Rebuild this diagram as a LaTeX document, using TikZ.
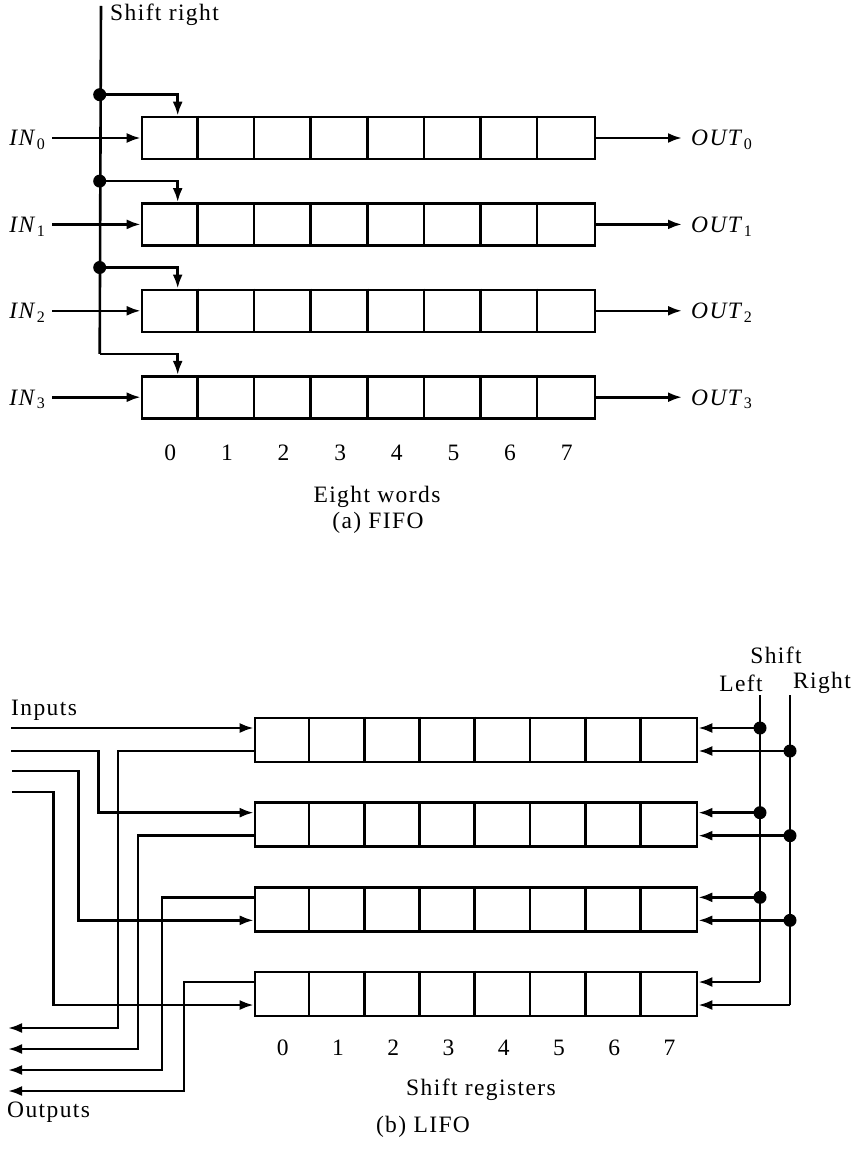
\documentclass[tikz,border=0pt]{standalone}
\usepackage{fontspec}
\setmainfont{Liberation Serif}[LetterSpace=6]
\usetikzlibrary{arrows.meta,calc}
\newcommand\subs[1]{\raisebox{-0.35ex}{\fontsize{16}{16}\selectfont\upshape #1}}
\begin{document}
\begin{tikzpicture}[x=1pt,y=-1pt,
  wire/.style={line width=2.6pt},
  arr/.style={wire,-{Latex[length=14pt,width=10pt]}},
  reg/.style={draw,line width=2.6pt,inner sep=0pt},
  lbl/.style={font=\fontsize{23.5}{27}\selectfont,inner sep=2pt},
  dot/.style={circle,fill,inner sep=0pt,minimum size=13pt}]
\useasboundingbox (0,0) rectangle (855,1150);
% ---------------- FIFO ----------------
\foreach \k in {0,...,3}{
  \node[reg,minimum width=453pt,minimum height=42pt] (fr\k) at (368.5,{138+86.4*\k}) {};
  \foreach \j in {1,...,7}
    \draw[wire] ($(fr\k.north west)+({\j*56.625},0)$) -- ($(fr\k.south west)+({\j*56.625},0)$);
  \coordinate (sb\k) at ($(fr\k.north west)+(-41,-21)$);
  \draw[arr] (sb\k) -| ($(fr\k.north west)+(37,0)$);
  \node[lbl,anchor=base east] (in\k) at (47,{146+86.4*\k}) {\textit{IN}\subs{\k}};
  \draw[arr] ($(in\k.east |- fr\k.west)+(5,0)$) -- (fr\k.west);
  \node[lbl,anchor=base west] (out\k) at (689,{146+86.4*\k}) {\textit{OUT}\subs{\k}};
  \draw[arr] (fr\k.east) -- ($(out\k.west |- fr\k.east)+(-7,0)$);
}
\node[lbl,anchor=west] (srl) at (108,15) {Shift right};
\coordinate (srtop) at (101,6);
\draw[wire] (srtop) -- (sb3);
\foreach \k in {0,1,2} \node[dot] (fd\k) at (sb\k) {};
\foreach \j in {0,...,7}
  \node[lbl] (fn\j) at ({142+56.625*(\j+0.5)},453) {\j};
\node[lbl] (fw) at (377,497) {Eight words};
\node[lbl] (fcap) at (378,523) {(a) FIFO};
% ---------------- LIFO ----------------
\foreach \k in {0,...,3}{
  \node[reg,minimum width=442pt,minimum height=44pt] (lr\k) at (476,{740+84.67*\k}) {};
  \foreach \j in {1,...,7}
    \draw[wire] ($(lr\k.north west)+({\j*55.25},0)$) -- ($(lr\k.south west)+({\j*55.25},0)$);
  \coordinate (sl\k) at (760,{740+84.67*\k-12});
  \coordinate (sr\k) at (790,{740+84.67*\k+11});
  \draw[arr] (sl\k) -- (sl\k -| lr\k.east);
  \draw[arr] (sr\k) -- (sr\k -| lr\k.east);
}
\node[lbl] (shl) at (776,655) {Shift};
\node[lbl] (lft) at (741,683) {Left};
\node[lbl] (rgt) at (822,683) {Right};
\coordinate (slt) at (760,695);
\coordinate (srt) at (790,695);
\draw[wire] (slt) -- (sl3);
\draw[wire] (srt) -- (sr3);
\foreach \k in {0,1,2}{
  \node[dot] (ld\k) at (sl\k) {};
  \node[dot] (rd\k) at (sr\k) {};
}
% inputs
\node[lbl,anchor=west] (inl) at (9,710) {Inputs};
\coordinate (is0) at (11,728);
\coordinate (is1) at (11,751);
\coordinate (is2) at (12,771);
\coordinate (is3) at (12,792);
\draw[arr] (is0) -- (is0 -| lr0.west);
\draw[arr] (is1) -| ($(lr1.west)+(-155,-12)$) -- ($(lr1.west)+(0,-12)$);
\draw[arr] (is2) -| ($(lr2.west)+(-175,11)$) -- ($(lr2.west)+(0,11)$);
\draw[arr] (is3) -| ($(lr3.west)+(-200,11)$) -- ($(lr3.west)+(0,11)$);
% outputs
\coordinate (ov0) at (118,1028); \coordinate (oe0) at (8,1028);
\coordinate (ov1) at (138,1049); \coordinate (oe1) at (8,1049);
\coordinate (ov2) at (162,1070); \coordinate (oe2) at (8,1070);
\coordinate (ov3) at (184,1091); \coordinate (oe3) at (8,1091);
\draw[arr] ($(lr0.west)+(0,11)$) -| (ov0) -- (oe0);
\draw[arr] ($(lr1.west)+(0,11)$) -| (ov1) -- (oe1);
\draw[arr] ($(lr2.west)+(0,-12)$) -| (ov2) -- (oe2);
\draw[arr] ($(lr3.west)+(0,-12)$) -| (ov3) -- (oe3);
\node[lbl,anchor=west] (outl) at (5,1112) {Outputs};
\foreach \j in {0,...,7}
  \node[lbl] (ln\j) at ({255+55.25*(\j+0.5)},1048) {\j};
\node[lbl] (lsr) at (481,1090) {Shift registers};
\node[lbl] (lcap) at (423,1127) {(b) LIFO};
\end{tikzpicture}
\end{document}
